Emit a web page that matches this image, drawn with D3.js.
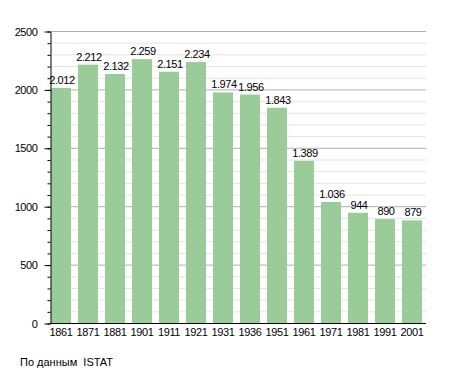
<!DOCTYPE html>
<meta charset="utf-8">
<style>
body { margin: 0; background: #fff; }
text { font-family: "Liberation Sans", Arial, sans-serif; fill: #000; }
.grid-minor line { stroke: #e4e4e4; }
.grid-major line { stroke: #b0b0b0; }
.bar { fill: #99cc99; }
</style>
<svg width="455" height="373"></svg>
<script src="https://d3js.org/d3.v7.min.js"></script>
<script>

var years = ["1861","1871","1881","1901","1911","1921","1931","1936","1951","1961","1971","1981","1991","2001"];
var population = [2012, 2212, 2132, 2259, 2151, 2234, 1974, 1956, 1843, 1389, 1036, 944, 890, 879];
var yTicks = [0, 500, 1000, 1500, 2000, 2500];
var source = "По данным  ISTAT";

var svg = d3.select("svg");
var plotLeft = 50, plotRight = 426, plotTop = 31, plotBottom = 323;

var x = d3.scaleBand().domain(years).range([51, 422]).paddingInner(0.26).paddingOuter(0);
var y = d3.scaleLinear().domain([0, 2500]).range([plotBottom, plotTop]);

// minor grid every 100
svg.append("g").attr("class", "grid-minor")
  .selectAll("line").data(d3.range(100, 2500, 100).filter(function(d) { return d % 500; }))
  .enter().append("line")
    .attr("x1", plotLeft).attr("x2", plotRight)
    .attr("y1", function(d) { return y(d) + 0.5; })
    .attr("y2", function(d) { return y(d) + 0.5; });

// major grid
svg.append("g").attr("class", "grid-major")
  .selectAll("line").data(yTicks.slice(1))
  .enter().append("line")
    .attr("x1", plotLeft).attr("x2", plotRight)
    .attr("y1", function(d) { return y(d) + 0.5; })
    .attr("y2", function(d) { return y(d) + 0.5; });

// bars
svg.selectAll(".bar").data(population).enter().append("rect")
  .attr("class", "bar")
  .attr("x", function(d, i) { return x(years[i]); })
  .attr("width", x.bandwidth())
  .attr("y", function(d) { return y(d); })
  .attr("height", function(d) { return y(0) - y(d); });

// value labels
svg.selectAll(".val").data(population).enter().append("text")
  .attr("class", "val")
  .attr("x", function(d, i) { return x(years[i]) + x.bandwidth() / 2 + 1; })
  .attr("y", function(d) { return y(d) - 4; })
  .attr("text-anchor", "middle")
  .style("font-size", "11px")
  .style("letter-spacing", "-0.4px")
  .text(function(d) { return d >= 1000 ? d3.format(",")(d).replace(",", ".") : d; });

// y axis minor ticks
var yAxisMinor = d3.axisLeft(y).tickValues(d3.range(0, 2600, 100)).tickSize(3).tickFormat("");
svg.append("g").attr("transform", "translate(" + (plotLeft + 0.5) + ",0.5)").call(yAxisMinor)
  .call(function(g) { g.select(".domain").remove(); g.selectAll("line").attr("stroke", "#000"); });

// y axis major
var yAxis = d3.axisLeft(y).tickValues(yTicks).tickSize(6).tickPadding(7).tickSizeOuter(0).tickFormat(d3.format("d"));
svg.append("g").attr("transform", "translate(" + (plotLeft + 0.5) + ",0.5)").call(yAxis)
  .call(function(g) {
    g.selectAll("text").style("font-size", "11px").style("letter-spacing", "-0.4px").attr("fill", "#000");
    g.selectAll("line").attr("stroke", "#000");
    g.select(".domain").attr("stroke", "#000");
  });

// x axis
var xAxis = d3.axisBottom(x).tickSize(0).tickPadding(5).tickSizeOuter(0);
svg.append("g").attr("transform", "translate(0," + (plotBottom + 0.5) + ")").call(xAxis)
  .call(function(g) {
    g.select(".domain").attr("d", "M" + plotLeft + ",0H" + plotRight).attr("stroke", "#000");
    g.selectAll("text").style("font-size", "11px").style("letter-spacing", "-0.4px").attr("fill", "#000");
  });

svg.append("text")
  .attr("x", 20).attr("y", 366)
  .style("font-size", "11px")
  .style("white-space", "pre")
  .text(source);

</script>
